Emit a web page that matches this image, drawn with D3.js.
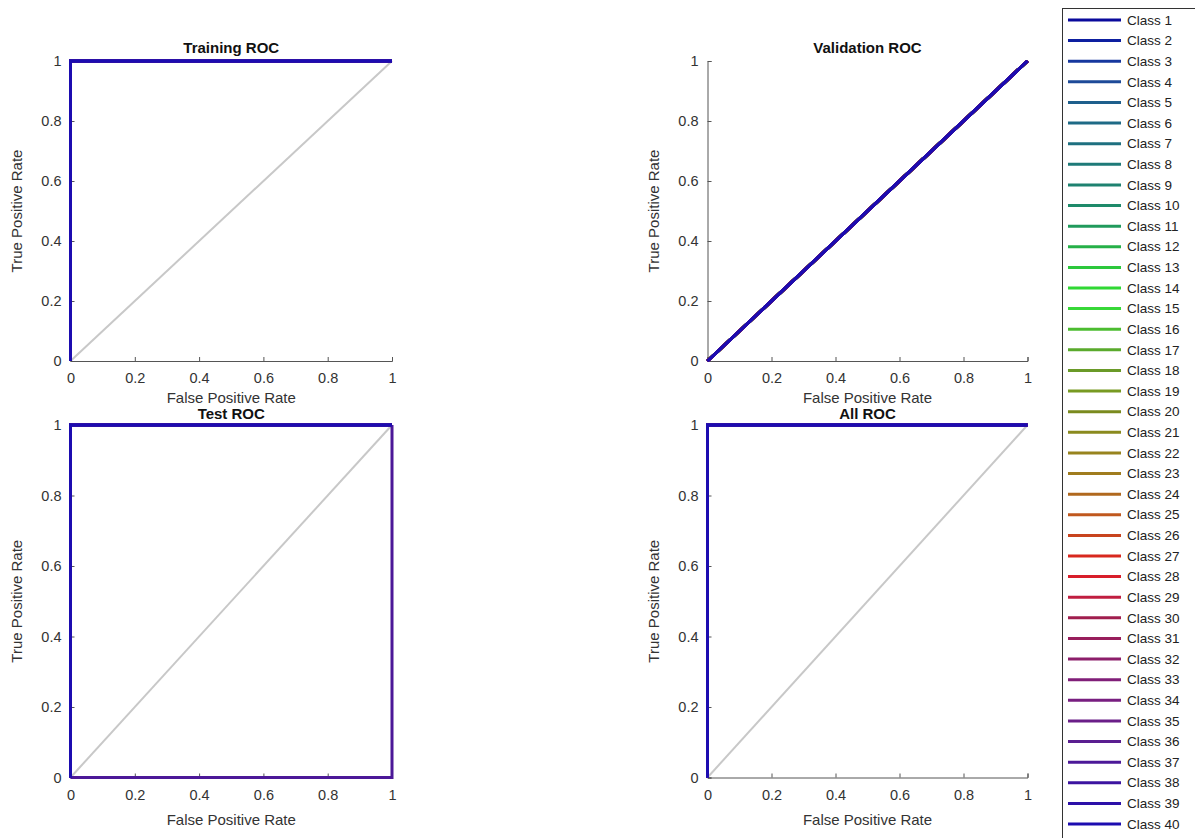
<!DOCTYPE html>
<html>
<head>
<meta charset="utf-8">
<script src="https://cdn.jsdelivr.net/npm/d3@7"></script>
<style>
body{margin:0;background:#fff;}
svg{display:block;font-family:'Liberation Sans',Arial,sans-serif;}
</style>
</head>
<body>
<div id="chart"></div>
<script>
// ---- data ----
var classNames=d3.range(1,41).map(function(i){return 'Class '+i});
var classColors=[
	'#0a0a9c','#0d1fa0','#16379e','#1d4a98','#1e5f8c','#1e6a86','#1e7080','#1e7a78',
	'#1e8270','#1e8a6a','#209a5c','#26b048','#2cc83c','#30d834','#38d838','#4cbc30',
	'#5aaa2c','#6a9a28','#789a22','#7a8a1e','#8a8a1e','#98841e','#a07c1e','#b0681e',
	'#c0581e','#c8441e','#d8281e','#d81e2a','#c01e40','#a01e4e','#981e5c','#8c1e6a',
	'#801e78','#781e80','#6a1e88','#5a1e90','#4c1898','#3c14a0','#2c10a8','#1c0cb0'
];
var panelTitles=['Training ROC','Validation ROC','Test ROC','All ROC'];
var tickValues=[0,0.2,0.4,0.6,0.8,1];
// roc curve shapes (fpr, tpr)
var perfectFpr=[0,0,1], perfectTpr=[0,1,1];
var chanceFpr=[0,1],    chanceTpr=[0,1];
var worstFpr=[0,1,1],   worstTpr=[0,0,1];
// which curve each panel uses for its classes
var panelCurve=['perfect','chance','perfect','perfect'];
var testWorstClasses=[37];	// classes that fail in the test set

var W=1195,H=838;
var svg=d3.select('#chart').append('svg').attr('width',W).attr('height',H);

// panel boxes (pixel layout)
var boxes=[
	{x0:70.5,x1:392,y0:61,y1:361},
	{x0:707.5,x1:1027.5,y0:61,y1:361},
	{x0:70.5,x1:392,y0:425,y1:777.5},
	{x0:707.5,x1:1027.5,y0:425,y1:777.5}
];

var curves={
	perfect:{f:perfectFpr,t:perfectTpr},
	chance:{f:chanceFpr,t:chanceTpr},
	worst:{f:worstFpr,t:worstTpr}
};

boxes.forEach(function(b,p){
	var x=d3.scaleLinear().domain([0,1]).range([b.x0,b.x1]);
	var y=d3.scaleLinear().domain([0,1]).range([b.y1,b.y0]);
	var g=svg.append('g');

	// reference diagonal
	g.append('path')
		.attr('d',d3.line().x(function(d){return x(d[0])}).y(function(d){return y(d[1])})(
			d3.zip(chanceFpr,chanceTpr)))
		.attr('stroke','#c8c8c8').attr('stroke-width',2).attr('fill','none');

	// axes
	var xa=g.append('g').attr('transform','translate(0,'+b.y1+')')
		.call(d3.axisBottom(x).tickValues(tickValues).tickSize(-4).tickPadding(10).tickFormat(d3.format('~g')));
	var ya=g.append('g').attr('transform','translate('+b.x0+',0)')
		.call(d3.axisLeft(y).tickValues(tickValues).tickSize(-4).tickPadding(9).tickFormat(d3.format('~g')));
	[xa,ya].forEach(function(a){
		a.select('.domain').attr('stroke','#555').attr('stroke-width',1);
		a.selectAll('.tick line').attr('stroke','#555');
		a.selectAll('text').attr('fill','#333').style('font-size','14.5px').style('font-family','Liberation Sans, Arial, sans-serif');
	});
	xa.selectAll('text').attr('dy','0.85em');

	// class curves
	var line=d3.line().x(function(d){return x(d[0])}).y(function(d){return y(d[1])});
	classNames.forEach(function(name,i){
		var c=curves[panelCurve[p]];
		if(p==2 && testWorstClasses.indexOf(i+1)>=0) c=curves.worst;
		g.append('path')
			.attr('d',line(d3.zip(c.f,c.t)))
			.attr('stroke',classColors[i]).attr('stroke-width',3)
			.attr('fill','none').attr('stroke-linejoin','miter');
	});

	// labels
	var cx=(b.x0+b.x1)/2, cy=(b.y0+b.y1)/2;
	g.append('text').text(panelTitles[p])
		.attr('x',cx).attr('y',b.y0-(p<2?8:6)).attr('text-anchor','middle')
		.attr('font-weight','bold').attr('font-size',15).attr('fill','#111');
	g.append('text').text('False Positive Rate')
		.attr('x',cx).attr('y',b.y1+(p<2?42:47)).attr('text-anchor','middle')
		.attr('font-size',15).attr('fill','#333');
	g.append('text').text('True Positive Rate')
		.attr('transform','translate('+(b.x0-49)+','+cy+') rotate(-90)')
		.attr('text-anchor','middle').attr('font-size',15).attr('fill','#333');
});

// legend
var lg=svg.append('g').attr('transform','translate(1062,8)');
lg.append('rect').attr('x',0.5).attr('y',0.5).attr('width',200).attr('height',850)
	.attr('fill','#fff').attr('stroke','#333').attr('stroke-width',1);
var ly=d3.scaleLinear().domain([0,39]).range([12,816]);
classNames.forEach(function(name,i){
	lg.append('line').attr('x1',6).attr('x2',59).attr('y1',ly(i)).attr('y2',ly(i))
		.attr('stroke',classColors[i]).attr('stroke-width',3);
	lg.append('text').text(name).attr('x',65).attr('y',ly(i)).attr('dy','0.35em')
		.attr('font-size',13.5).attr('fill','#222');
});
</script>
</body>
</html>
